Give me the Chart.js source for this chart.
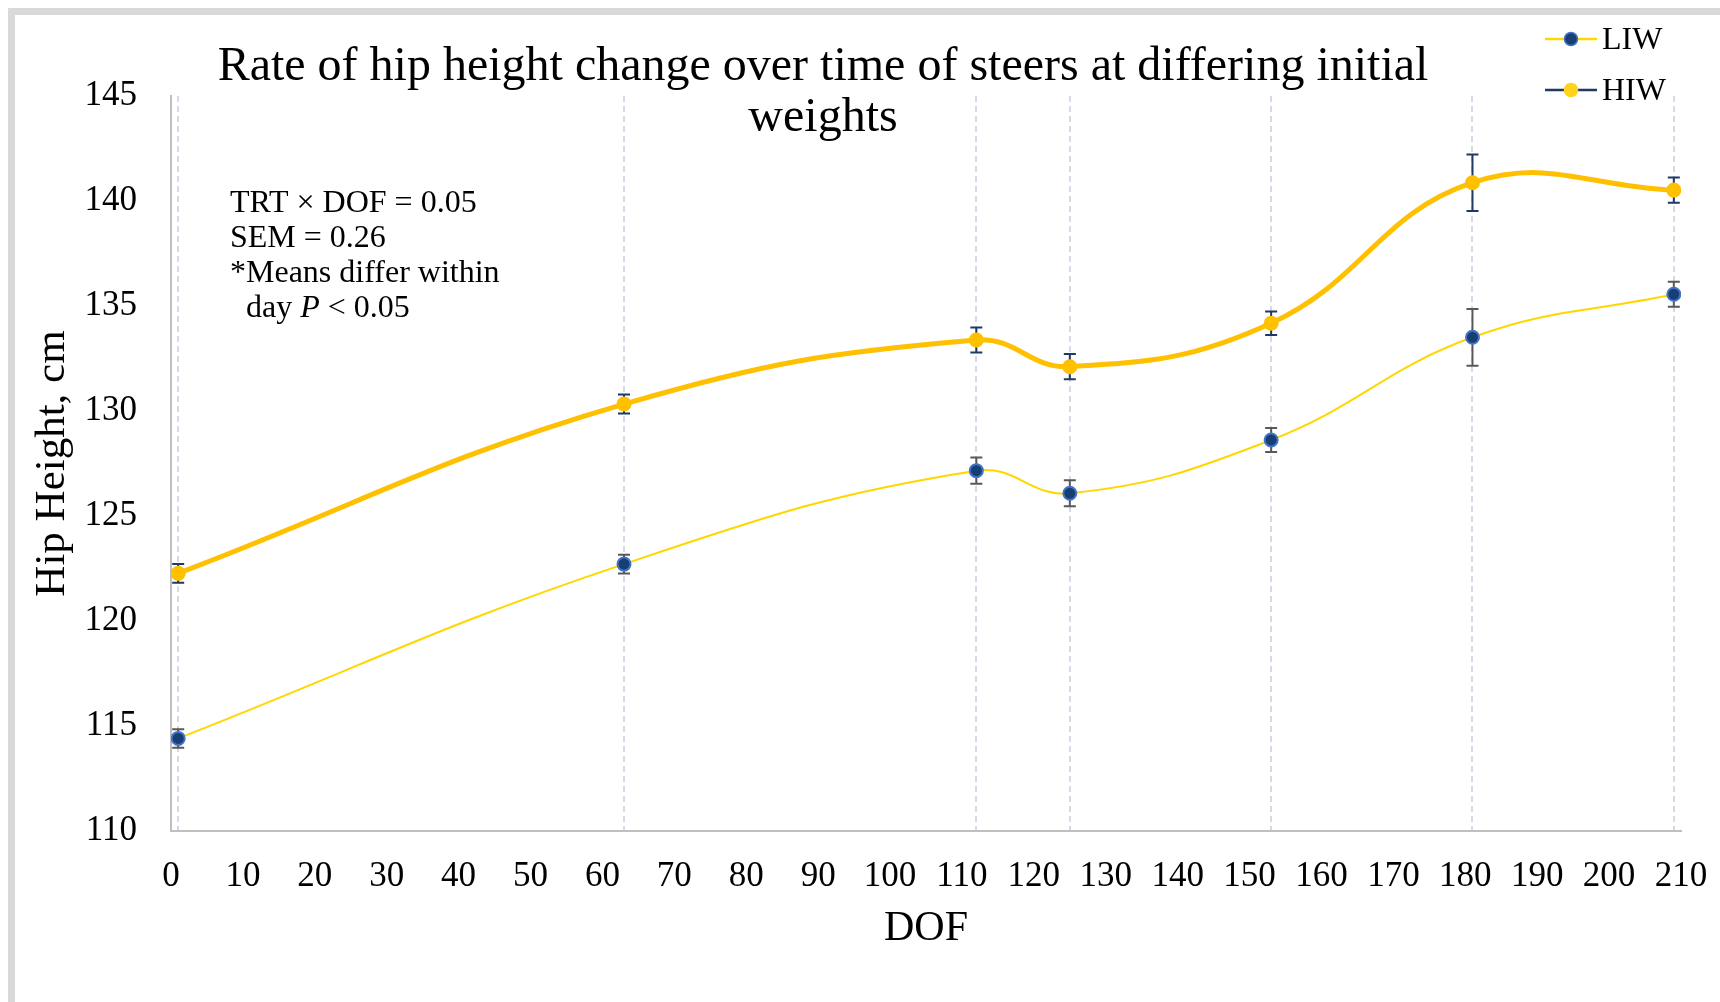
<!DOCTYPE html>
<html><head><meta charset="utf-8">
<script src="https://cdn.jsdelivr.net/npm/chart.js@4.4.1/dist/chart.umd.min.js"></script>
<style>html,body{margin:0;padding:0;background:#fff;}canvas{display:block;}</style>
</head><body>
<canvas id="c" width="1720" height="1002"></canvas>
<script>
// ---- data ----
const days = [1, 63, 112, 125, 153, 181, 209];
const liwMeans = [114.41, 122.71, 127.16, 126.08, 128.62, 133.51, 135.56];
const hiwMeans = [122.27, 130.33, 133.38, 132.11, 134.18, 140.87, 140.52];
const liwSem = [0.44, 0.45, 0.62, 0.62, 0.57, 1.35, 0.59];
const hiwSem = [0.45, 0.45, 0.60, 0.60, 0.56, 1.35, 0.60];
const xTicks = [0,10,20,30,40,50,60,70,80,90,100,110,120,130,140,150,160,170,180,190,200,210];
const yTicks = [110,115,120,125,130,135,140,145];
const seriesNames = ['LIW', 'HIW'];
const titleLines = ['Rate of hip height change over time of steers at differing initial', 'weights'];
const xTitle = 'DOF';
const yTitle = 'Hip Height, cm';
const noteLines = ['TRT \u00d7 DOF = 0.05', 'SEM = 0.26', '*Means differ within'];
const noteLastParts = ['day ', 'P', ' < 0.05'];

const FONT = '"Liberation Serif", "Times New Roman", serif';
const C = {
  liwLine: '#FFD700', liwFill: '#173F73', liwBorder: '#4472C4', liwErr: '#595959',
  hiwLine: '#FFC000', hiwFill: '#FFC000', hiwErr: '#1F3864',
  legendHiwDot: '#FFD31C', axis: '#BFBFBF', drop: '#D3DAE5', frame: '#D9D9D9'
};

const toPts = (ys) => days.map((d, i) => ({x: d, y: ys[i]}));

const decor = {
  id: 'decor',
  beforeDraw(chart) {
    const ctx = chart.ctx;
    ctx.save();
    ctx.fillStyle = '#ffffff';
    ctx.fillRect(0, 0, chart.width, chart.height);
    ctx.fillStyle = C.frame;
    ctx.fillRect(8, 8, chart.width - 8, 7);
    ctx.fillRect(8, 8, 7, chart.height - 8);
    ctx.restore();
  },
  beforeDatasetsDraw(chart) {
    const ctx = chart.ctx, xs = chart.scales.x, ys = chart.scales.y;
    const bars = [[liwMeans, liwSem, C.liwErr], [hiwMeans, hiwSem, C.hiwErr]];
    ctx.save();
    ctx.lineWidth = 2;
    bars.forEach(([m, s, col]) => {
      ctx.strokeStyle = col;
      days.forEach((d, i) => {
        const px = xs.getPixelForValue(d);
        const y1 = ys.getPixelForValue(m[i] + s[i]);
        const y2 = ys.getPixelForValue(m[i] - s[i]);
        ctx.beginPath();
        ctx.moveTo(px, y1); ctx.lineTo(px, y2);
        ctx.moveTo(px - 6, y1); ctx.lineTo(px + 6, y1);
        ctx.moveTo(px - 6, y2); ctx.lineTo(px + 6, y2);
        ctx.stroke();
      });
    });
    ctx.restore();
  },
  afterDraw(chart) {
    const ctx = chart.ctx;
    ctx.save();
    ctx.fillStyle = '#000';
    // title
    ctx.font = '48px ' + FONT;
    ctx.textAlign = 'center';
    ctx.textBaseline = 'alphabetic';
    ctx.fillText(titleLines[0], 823, 80);
    ctx.fillText(titleLines[1], 823, 131);
    // note
    ctx.font = '32px ' + FONT;
    ctx.textAlign = 'left';
    const base = [212, 247, 282, 317];
    noteLines.forEach((t, i) => ctx.fillText(t, 230, base[i]));
    let x = 246;
    ctx.fillText(noteLastParts[0], x, base[3]);
    x += ctx.measureText(noteLastParts[0]).width;
    ctx.font = 'italic 32px ' + FONT;
    ctx.fillText(noteLastParts[1], x, base[3]);
    x += ctx.measureText(noteLastParts[1]).width;
    ctx.font = '32px ' + FONT;
    ctx.fillText(noteLastParts[2], x, base[3]);
    // legend
    const items = [
      {name: seriesNames[0], y: 39, line: C.liwLine, fill: C.liwFill, border: C.liwBorder},
      {name: seriesNames[1], y: 90, line: C.hiwErr, fill: C.legendHiwDot, border: C.legendHiwDot}
    ];
    items.forEach(it => {
      ctx.strokeStyle = it.line; ctx.lineWidth = 2.5;
      ctx.beginPath(); ctx.moveTo(1545, it.y); ctx.lineTo(1597, it.y); ctx.stroke();
      ctx.beginPath(); ctx.arc(1571, it.y, 6.5, 0, Math.PI * 2);
      ctx.fillStyle = it.fill; ctx.fill();
      ctx.lineWidth = 1.5; ctx.strokeStyle = it.border; ctx.stroke();
      ctx.fillStyle = '#000';
      ctx.font = '32px ' + FONT;
      ctx.textBaseline = 'middle';
      ctx.fillText(it.name, 1602, it.y + 2);
    });
    ctx.restore();
  }
};

new Chart(document.getElementById('c'), {
  type: 'line',
  data: {
    datasets: [
      {
        label: seriesNames[0], data: toPts(liwMeans),
        borderColor: C.liwLine, borderWidth: 2, tension: 0.42,
        pointRadius: 6.5, pointBorderWidth: 2,
        pointBackgroundColor: C.liwFill, pointBorderColor: C.liwBorder,
        fill: false
      },
      {
        label: seriesNames[1], data: toPts(hiwMeans),
        borderColor: C.hiwLine, borderWidth: 5, tension: 0.42,
        pointRadius: 7.5, pointBorderWidth: 0,
        pointBackgroundColor: C.hiwFill, pointBorderColor: C.hiwFill,
        fill: false
      }
    ]
  },
  options: {
    responsive: false,
    animation: false,
    events: [],
    layout: {padding: {left: 0, top: 96, right: 39, bottom: 0}},
    plugins: {legend: {display: false}, title: {display: false}, tooltip: {enabled: false}},
    scales: {
      x: {
        type: 'linear', min: 0, max: 210, position: 'bottom',
        afterBuildTicks: (s) => { s.ticks = xTicks.map(v => ({value: v})); },
        afterFit: (s) => { s.height = 171; },
        grid: {display: true, drawOnChartArea: false, drawTicks: true, tickLength: 25, tickColor: 'rgba(0,0,0,0)'},
        border: {display: true, color: C.axis, width: 2},
        ticks: {color: '#000', font: {family: FONT, size: 35}, padding: 0, maxRotation: 0, autoSkip: false},
        title: {display: true, text: xTitle, color: '#000', font: {family: FONT, size: 42}, padding: {top: 0, bottom: 48}}
      },
      x2: {
        type: 'linear', min: 0, max: 210, position: 'bottom',
        afterBuildTicks: (s) => { s.ticks = days.map(v => ({value: v})); },
        afterFit: (s) => { s.height = 0; },
        ticks: {display: false},
        grid: {display: true, drawTicks: false, color: C.drop, lineWidth: 2},
        border: {display: false, dash: [6, 4]}
      },
      y: {
        type: 'linear', min: 110, max: 145, position: 'left',
        afterBuildTicks: (s) => { s.ticks = yTicks.map(v => ({value: v})); },
        afterFit: (s) => { s.width = 171; },
        grid: {display: false, drawTicks: false},
        border: {display: true, color: C.axis, width: 2},
        ticks: {color: '#000', font: {family: FONT, size: 35}, padding: 34},
        title: {display: true, text: yTitle, color: '#000', font: {family: FONT, size: 43}, padding: {top: 27, bottom: 0}}
      }
    }
  },
  plugins: [decor]
});
</script>
</body></html>
